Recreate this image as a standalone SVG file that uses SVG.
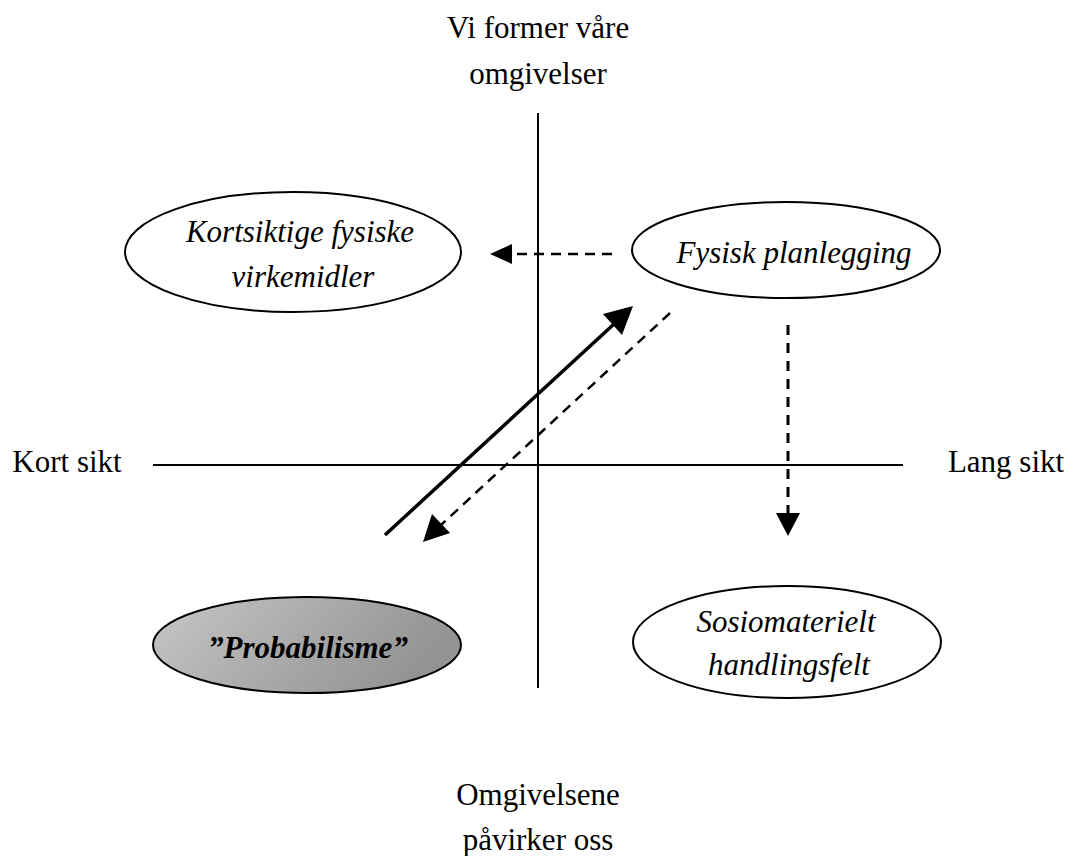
<svg xmlns="http://www.w3.org/2000/svg" width="1071" height="856" viewBox="0 0 1071 856">
<defs>
<style>
.t{font-family:"Liberation Serif","Times New Roman",serif;font-size:31px;fill:#000;text-anchor:middle}
.i{font-style:italic}
.b{font-weight:bold}
.ell{fill:#fff;stroke:#000;stroke-width:2}
.axis{stroke:#000;stroke-width:2;fill:none}
.dash{stroke:#000;stroke-width:2.5;fill:none;stroke-dasharray:10 7}
.dashv{stroke:#000;stroke-width:3;fill:none;stroke-dasharray:10 8}
.solid{stroke:#000;stroke-width:3.5;fill:none}
</style>
<linearGradient id="g" x1="0" y1="0" x2="1" y2="0.3">
<stop offset="0" stop-color="#c6c6c6"/>
<stop offset="1" stop-color="#939393"/>
</linearGradient>
</defs>
<g id="axes">
<line class="axis" x1="538" y1="113" x2="538" y2="688"/>
<line class="axis" x1="153" y1="465" x2="903" y2="465"/>
</g>
<g id="labels">
<text class="t" x="538" y="38">Vi former våre</text>
<text class="t" x="538" y="84">omgivelser</text>
<text class="t" x="67" y="472">Kort sikt</text>
<text class="t" x="1006" y="472">Lang sikt</text>
<text class="t" x="538" y="805">Omgivelsene</text>
<text class="t" x="538" y="850">påvirker oss</text>
</g>
<g id="connectors">
<line class="dash" x1="612" y1="254" x2="512" y2="254"/>
<path d="M490,254 L512,244 L512,264 z" fill="#000"/>
<line class="dashv" x1="788" y1="325" x2="788" y2="513"/>
<path d="M788,536 L776,513 L800,513 z" fill="#000"/>
<line class="solid" x1="385" y1="535" x2="614" y2="324"/>
<path d="M633,306 L622,335 L603,314 z" fill="#000"/>
<line class="dash" x1="670" y1="313" x2="441" y2="525"/>
<path d="M423,542 L432,514 L450,533 z" fill="#000"/>
</g>
<g id="node-kortsiktige">
<ellipse class="ell" cx="293" cy="252" rx="168" ry="60"/>
<text class="t i" x="300" y="242">Kortsiktige fysiske</text>
<text class="t i" x="303" y="287">virkemidler</text>
</g>
<g id="node-fysisk">
<ellipse class="ell" cx="786" cy="250" rx="154" ry="48"/>
<text class="t i" x="794" y="263">Fysisk planlegging</text>
</g>
<g id="node-probabilisme">
<ellipse cx="307" cy="645" rx="154" ry="48" fill="url(#g)" stroke="#000" stroke-width="2"/>
<text class="t i b" x="308" y="658">”Probabilisme”</text>
</g>
<g id="node-sosiomaterielt">
<ellipse class="ell" cx="787" cy="642" rx="154" ry="56"/>
<text class="t i" x="786" y="632">Sosiomaterielt</text>
<text class="t i" x="789" y="675">handlingsfelt</text>
</g>
</svg>
